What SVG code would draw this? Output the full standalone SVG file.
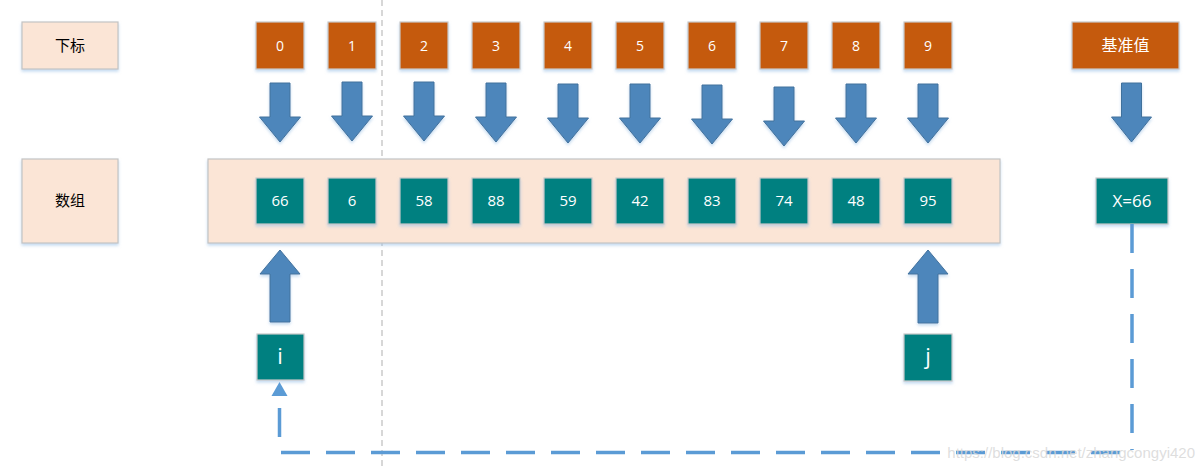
<svg xmlns="http://www.w3.org/2000/svg" width="1204" height="469" viewBox="0 0 1204 469">
<defs>
<filter id="sh" x="-20%" y="-20%" width="140%" height="150%">
<feDropShadow dx="0" dy="2" stdDeviation="1.5" flood-color="#9dc3e6" flood-opacity="0.6"/>
</filter>
</defs>
<style>
.lbl{fill:#FBE5D6;stroke:#c3c3c3;stroke-width:1.2}
.idx{fill:#C55A11;stroke:#c9c9c9;stroke-width:1.2}
.val{fill:#008080;stroke:#c9c9c9;stroke-width:1.2}
.arr{fill:#4E86BB;stroke:#41719C;stroke-width:1}
.cn{font-family:"Noto Sans CJK SC",sans-serif;font-size:15px;fill:#000;text-anchor:middle}
.wt{font-family:"Open Sans","Noto Sans",sans-serif;fill:#fff;text-anchor:middle}
.wcn{font-family:"Noto Sans CJK SC",sans-serif;font-size:16px;fill:#fff;text-anchor:middle}
.dash{fill:none;stroke:#5B9BD5;stroke-width:3.5;stroke-dasharray:29 16}
</style>
<rect width="1204" height="469" fill="#fff"/>
<line x1="382" y1="0" x2="382" y2="469" stroke="#bdbdbd" stroke-width="1.2" stroke-dasharray="6 4"/>

<g id="label-xiabiao"><rect class="lbl" x="22" y="22" width="96" height="47" filter="url(#sh)"/><text class="cn" x="70" y="51">下标</text></g>
<g id="label-shuzu"><rect class="lbl" x="22" y="159" width="96" height="84" filter="url(#sh)"/><text class="cn" x="70" y="206">数组</text></g>

<g id="array-bg"><rect class="lbl" x="208" y="159" width="792" height="84" filter="url(#sh)"/></g>

<g id="idx0"><rect class="idx" x="256" y="22" width="48" height="47" filter="url(#sh)"/><text class="wt" x="280" y="51" font-size="14">0</text></g>
<g id="idx1"><rect class="idx" x="328" y="22" width="48" height="47" filter="url(#sh)"/><text class="wt" x="352" y="51" font-size="14">1</text></g>
<g id="idx2"><rect class="idx" x="400" y="22" width="48" height="47" filter="url(#sh)"/><text class="wt" x="424" y="51" font-size="14">2</text></g>
<g id="idx3"><rect class="idx" x="472" y="22" width="48" height="47" filter="url(#sh)"/><text class="wt" x="496" y="51" font-size="14">3</text></g>
<g id="idx4"><rect class="idx" x="544" y="22" width="48" height="47" filter="url(#sh)"/><text class="wt" x="568" y="51" font-size="14">4</text></g>
<g id="idx5"><rect class="idx" x="616" y="22" width="48" height="47" filter="url(#sh)"/><text class="wt" x="640" y="51" font-size="14">5</text></g>
<g id="idx6"><rect class="idx" x="688" y="22" width="48" height="47" filter="url(#sh)"/><text class="wt" x="712" y="51" font-size="14">6</text></g>
<g id="idx7"><rect class="idx" x="760" y="22" width="48" height="47" filter="url(#sh)"/><text class="wt" x="784" y="51" font-size="14">7</text></g>
<g id="idx8"><rect class="idx" x="832" y="22" width="48" height="47" filter="url(#sh)"/><text class="wt" x="856" y="51" font-size="14">8</text></g>
<g id="idx9"><rect class="idx" x="904" y="22" width="48" height="47" filter="url(#sh)"/><text class="wt" x="928" y="51" font-size="14">9</text></g>
<g id="pivot-label"><rect class="idx" x="1072" y="22" width="107" height="47" filter="url(#sh)"/><text class="wcn" x="1125.5" y="51">基准值</text></g>

<g id="val0"><rect class="val" x="256" y="178" width="48" height="46" filter="url(#sh)"/><text class="wt" x="280" y="206" font-size="15">66</text></g>
<g id="val1"><rect class="val" x="328" y="178" width="48" height="46" filter="url(#sh)"/><text class="wt" x="352" y="206" font-size="15">6</text></g>
<g id="val2"><rect class="val" x="400" y="178" width="48" height="46" filter="url(#sh)"/><text class="wt" x="424" y="206" font-size="15">58</text></g>
<g id="val3"><rect class="val" x="472" y="178" width="48" height="46" filter="url(#sh)"/><text class="wt" x="496" y="206" font-size="15">88</text></g>
<g id="val4"><rect class="val" x="544" y="178" width="48" height="46" filter="url(#sh)"/><text class="wt" x="568" y="206" font-size="15">59</text></g>
<g id="val5"><rect class="val" x="616" y="178" width="48" height="46" filter="url(#sh)"/><text class="wt" x="640" y="206" font-size="15">42</text></g>
<g id="val6"><rect class="val" x="688" y="178" width="48" height="46" filter="url(#sh)"/><text class="wt" x="712" y="206" font-size="15">83</text></g>
<g id="val7"><rect class="val" x="760" y="178" width="48" height="46" filter="url(#sh)"/><text class="wt" x="784" y="206" font-size="15">74</text></g>
<g id="val8"><rect class="val" x="832" y="178" width="48" height="46" filter="url(#sh)"/><text class="wt" x="856" y="206" font-size="15">48</text></g>
<g id="val9"><rect class="val" x="904" y="178" width="48" height="46" filter="url(#sh)"/><text class="wt" x="928" y="206" font-size="15">95</text></g>
<g id="pivot"><rect class="val" x="1096" y="178" width="72" height="46" filter="url(#sh)"/><text class="wt" x="1132" y="207" font-size="17">X=66</text></g>

<g id="ptr-i"><rect class="val" x="257" y="334" width="47" height="46" filter="url(#sh)"/><text class="wt" x="280" y="364" font-size="22">i</text></g>
<g id="ptr-j"><rect class="val" x="904" y="334" width="48" height="47" filter="url(#sh)"/><text class="wt" x="928" y="364" font-size="22">j</text></g>

<g id="connectors">
<path class="arr" filter="url(#sh)" d="M270,83 H290 V117 H300.5 L280,142 L259.5,117 H270 Z"/>
<path class="arr" filter="url(#sh)" d="M342,82 H362 V116 H372.5 L352,141 L331.5,116 H342 Z"/>
<path class="arr" filter="url(#sh)" d="M414,82 H434 V116 H444.5 L424,141 L403.5,116 H414 Z"/>
<path class="arr" filter="url(#sh)" d="M486,83 H506 V117 H516.5 L496,142 L475.5,117 H486 Z"/>
<path class="arr" filter="url(#sh)" d="M558,84 H578 V118 H588.5 L568,143 L547.5,118 H558 Z"/>
<path class="arr" filter="url(#sh)" d="M630,84 H650 V118 H660.5 L640,143 L619.5,118 H630 Z"/>
<path class="arr" filter="url(#sh)" d="M702,85 H722 V119 H732.5 L712,144 L691.5,119 H702 Z"/>
<path class="arr" filter="url(#sh)" d="M774,87 H794 V121 H804.5 L784,146 L763.5,121 H774 Z"/>
<path class="arr" filter="url(#sh)" d="M846,84 H866 V118 H876.5 L856,143 L835.5,118 H846 Z"/>
<path class="arr" filter="url(#sh)" d="M918,84 H938 V118 H948.5 L928,143 L907.5,118 H918 Z"/>
<path class="arr" filter="url(#sh)" d="M1121.5,83 H1141.5 V117 H1151.5 L1131.5,142 L1111.5,117 H1121.5 Z"/>
<path class="arr" filter="url(#sh)" d="M270,322 H290 V274 H300 L280,250 L260,274 H270 Z"/>
<path class="arr" filter="url(#sh)" d="M918,323 H938 V274 H948 L928,250 L908,274 H918 Z"/>
<path class="dash" d="M1132,224 V450"/>
<path class="dash" d="M281,452.5 H1132"/>
<path class="dash" d="M279.5,408 V437"/>
<path d="M279.5,382 L287.5,396 L271.5,396 Z" fill="#5B9BD5"/>
</g>
<text x="1195" y="458" font-family="Liberation Sans,Arial,sans-serif" font-size="15" fill="#d8d8d8" fill-opacity="0.85" text-anchor="end">https://blog.csdn.net/zhangcongyi420</text>
</svg>
